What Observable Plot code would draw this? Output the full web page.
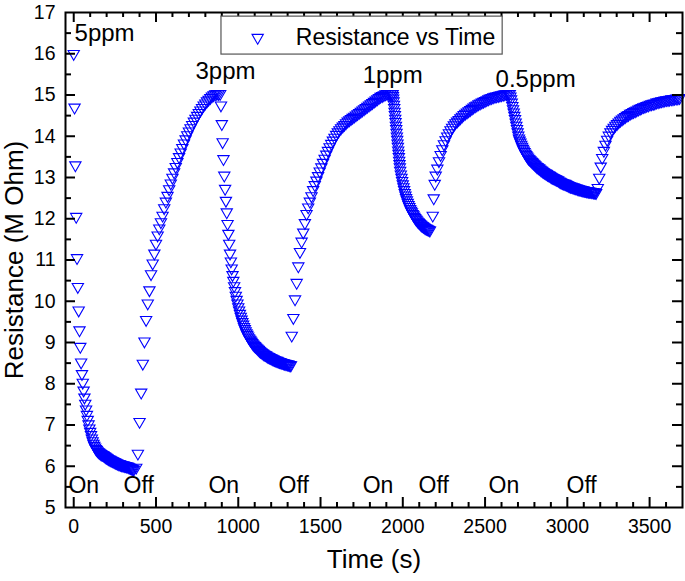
<!DOCTYPE html>
<html><head><meta charset="utf-8">
<script src="https://cdn.jsdelivr.net/npm/d3@7"></script>
<script src="https://cdn.jsdelivr.net/npm/@observablehq/plot@0.6"></script>
<style>body{margin:0;background:#fff}#chart{width:685px;height:581px}</style>
</head><body><div id="chart"></div>
<script>
// [time (s), resistance (M Ohm)]
const on5ppm = [[0,16.0],[5,14.7],[10,13.3],[15,12.05],[20,11.05],[25,10.35],[30,9.78],[35,9.3],[40,8.9],[45,8.52],[50,8.24],[55,8.03],[60,7.84],[65,7.67],[70,7.52],[75,7.38],[80,7.25],[85,7.13],[90,7.02],[95,6.92],[100,6.84],[105,6.76],[110,6.68],[115,6.61],[120,6.55],[125,6.5],[130,6.46],[135,6.42],[140,6.4],[145,6.37],[150,6.35],[155,6.33],[160,6.32],[165,6.3],[170,6.29],[175,6.28],[180,6.27],[185,6.25],[190,6.24],[195,6.22],[200,6.21],[205,6.2],[210,6.18],[215,6.17],[220,6.16],[225,6.15],[230,6.14],[235,6.13],[240,6.12],[245,6.11],[250,6.1],[255,6.09],[260,6.08],[265,6.07],[270,6.06],[275,6.05],[280,6.05],[285,6.04],[290,6.03],[295,6.03],[300,6.02],[305,6.02],[310,6.01],[315,6.01],[320,6.0],[325,6.0],[330,5.99],[335,5.98],[340,5.97],[345,5.96],[350,5.95],[355,5.94],[360,5.93],[365,5.92]];
const off5ppm = [[380,5.97],[390,6.31],[400,7.08],[410,7.79],[420,8.49],[430,9.03],[440,9.55],[450,9.95],[460,10.27],[470,10.66],[480,10.92],[490,11.16],[500,11.4],[510,11.6],[520,11.77],[530,11.92],[540,12.08],[550,12.26],[560,12.42],[570,12.56],[580,12.72],[590,12.86],[600,13.0],[610,13.13],[620,13.26],[630,13.38],[640,13.5],[650,13.61],[660,13.72],[670,13.83],[680,13.93],[690,14.03],[700,14.12],[710,14.2],[720,14.28],[730,14.36],[740,14.43],[750,14.5],[760,14.57],[770,14.63],[780,14.69],[790,14.75],[800,14.8],[810,14.85],[820,14.89],[830,14.93],[840,14.97],[850,15.0],[860,15.02],[870,15.03],[880,15.03]];
const on3ppm = [[890,15.03],[895,14.75],[900,14.3],[905,13.86],[910,13.45],[915,13.05],[920,12.73],[925,12.44],[930,12.16],[935,11.88],[940,11.64],[945,11.4],[950,11.16],[955,10.97],[960,10.8],[965,10.64],[970,10.5],[975,10.37],[980,10.25],[985,10.14],[990,10.04],[995,9.95],[1000,9.86],[1005,9.78],[1010,9.7],[1015,9.63],[1020,9.56],[1025,9.5],[1030,9.44],[1035,9.38],[1040,9.33],[1045,9.28],[1050,9.23],[1055,9.19],[1060,9.15],[1065,9.11],[1070,9.08],[1075,9.05],[1080,9.02],[1085,8.99],[1090,8.96],[1095,8.94],[1100,8.92],[1105,8.9],[1110,8.88],[1115,8.86],[1120,8.84],[1125,8.82],[1130,8.8],[1135,8.78],[1140,8.77],[1145,8.75],[1150,8.74],[1155,8.72],[1160,8.71],[1165,8.7],[1170,8.69],[1175,8.67],[1180,8.66],[1185,8.65],[1190,8.64],[1195,8.63],[1200,8.62],[1205,8.61],[1210,8.6],[1215,8.59],[1220,8.58],[1225,8.57],[1230,8.56],[1235,8.56],[1240,8.55],[1245,8.54],[1250,8.53],[1255,8.53],[1260,8.52],[1265,8.51],[1270,8.51],[1275,8.5],[1280,8.49],[1285,8.49],[1290,8.48],[1295,8.48],[1300,8.47],[1305,8.47],[1310,8.46],[1315,8.45],[1320,8.45]];
const off3ppm = [[1325,9.17],[1335,9.6],[1345,10.05],[1355,10.45],[1365,10.85],[1375,11.2],[1385,11.45],[1395,11.67],[1405,11.9],[1415,12.12],[1425,12.28],[1435,12.42],[1445,12.55],[1455,12.7],[1465,12.82],[1475,12.93],[1485,13.04],[1495,13.15],[1505,13.25],[1515,13.36],[1525,13.46],[1535,13.56],[1545,13.65],[1555,13.74],[1565,13.82],[1575,13.9],[1585,13.97],[1595,14.04],[1605,14.1],[1615,14.15],[1625,14.2],[1635,14.24],[1645,14.28],[1655,14.32],[1665,14.36],[1675,14.39],[1685,14.42],[1695,14.45],[1705,14.48],[1715,14.51],[1725,14.54],[1735,14.57],[1745,14.6],[1755,14.63],[1765,14.66],[1775,14.69],[1785,14.72],[1795,14.75],[1805,14.78],[1815,14.81],[1825,14.84],[1835,14.87],[1845,14.9],[1855,14.93],[1865,14.96],[1875,14.98],[1885,15.0],[1895,15.02],[1905,15.03],[1915,15.03],[1925,15.03],[1935,15.03]];
const on1ppm = [[1938,15.03],[1940,14.98],[1942,14.92],[1944,14.85],[1946,14.77],[1948,14.69],[1950,14.6],[1952,14.52],[1954,14.43],[1956,14.35],[1958,14.26],[1960,14.18],[1962,14.09],[1964,14.0],[1966,13.92],[1968,13.83],[1970,13.75],[1972,13.66],[1974,13.58],[1976,13.5],[1978,13.41],[1980,13.33],[1982,13.25],[1984,13.17],[1988,13.08],[1992,13.0],[1996,12.92],[2000,12.84],[2004,12.77],[2008,12.7],[2012,12.63],[2016,12.57],[2020,12.51],[2025,12.45],[2030,12.39],[2035,12.34],[2040,12.29],[2045,12.24],[2050,12.2],[2055,12.16],[2060,12.12],[2065,12.09],[2070,12.05],[2075,12.02],[2080,11.99],[2085,11.97],[2090,11.94],[2095,11.92],[2100,11.9],[2105,11.88],[2110,11.86],[2115,11.84],[2120,11.83],[2125,11.81],[2130,11.8],[2135,11.78],[2140,11.77],[2145,11.76],[2150,11.75],[2155,11.74],[2160,11.73],[2165,11.72]];
const off1ppm = [[2182,12.08],[2188,12.5],[2194,12.85],[2200,13.05],[2210,13.22],[2220,13.4],[2230,13.55],[2240,13.69],[2250,13.81],[2260,13.91],[2270,14.0],[2280,14.08],[2290,14.15],[2300,14.21],[2310,14.27],[2320,14.32],[2330,14.36],[2340,14.4],[2350,14.44],[2360,14.48],[2370,14.52],[2380,14.55],[2390,14.58],[2400,14.61],[2410,14.64],[2420,14.67],[2430,14.7],[2440,14.73],[2450,14.75],[2460,14.78],[2470,14.8],[2480,14.82],[2490,14.84],[2500,14.86],[2510,14.88],[2520,14.9],[2530,14.92],[2540,14.93],[2550,14.95],[2560,14.96],[2570,14.97],[2580,14.98],[2590,14.99],[2600,15.0],[2610,15.01],[2620,15.02],[2630,15.02],[2640,15.03]];
const on05ppm = [[2650,15.03],[2654,14.97],[2658,14.9],[2662,14.82],[2666,14.74],[2670,14.66],[2674,14.58],[2678,14.5],[2682,14.42],[2686,14.34],[2690,14.26],[2694,14.18],[2698,14.1],[2702,14.02],[2706,13.95],[2710,13.9],[2715,13.85],[2720,13.8],[2725,13.75],[2730,13.7],[2735,13.66],[2740,13.62],[2745,13.58],[2750,13.55],[2755,13.52],[2760,13.49],[2765,13.46],[2770,13.44],[2775,13.42],[2780,13.4],[2785,13.38],[2790,13.36],[2795,13.34],[2800,13.32],[2805,13.3],[2810,13.28],[2815,13.26],[2820,13.25],[2825,13.23],[2830,13.22],[2835,13.2],[2840,13.18],[2845,13.17],[2850,13.15],[2855,13.14],[2860,13.12],[2865,13.11],[2870,13.1],[2875,13.09],[2880,13.07],[2885,13.06],[2890,13.05],[2895,13.04],[2900,13.02],[2905,13.01],[2910,13.0],[2915,12.99],[2920,12.98],[2925,12.97],[2930,12.96],[2935,12.95],[2940,12.94],[2945,12.93],[2950,12.91],[2955,12.9],[2960,12.89],[2965,12.88],[2970,12.87],[2975,12.86],[2980,12.85],[2985,12.85],[2990,12.84],[2995,12.83],[3000,12.82],[3005,12.81],[3010,12.8],[3015,12.79],[3020,12.78],[3025,12.78],[3030,12.77],[3035,12.76],[3040,12.76],[3045,12.75],[3050,12.74],[3055,12.74],[3060,12.73],[3065,12.72],[3070,12.72],[3075,12.71],[3080,12.71],[3085,12.7],[3090,12.7],[3095,12.69],[3100,12.69],[3105,12.68],[3110,12.68],[3115,12.67],[3120,12.67],[3125,12.67],[3130,12.66],[3135,12.66],[3140,12.66],[3145,12.65],[3150,12.65],[3155,12.65],[3160,12.64],[3165,12.64],[3170,12.64],[3175,12.63]];
const off05ppm = [[3185,12.75],[3194,13.0],[3203,13.27],[3212,13.48],[3222,13.65],[3232,13.8],[3242,13.92],[3252,14.02],[3262,14.1],[3272,14.16],[3282,14.21],[3292,14.26],[3302,14.3],[3312,14.34],[3322,14.38],[3332,14.41],[3342,14.44],[3352,14.47],[3362,14.5],[3372,14.52],[3382,14.55],[3392,14.57],[3402,14.59],[3412,14.61],[3422,14.63],[3432,14.65],[3442,14.67],[3452,14.69],[3462,14.71],[3472,14.72],[3482,14.74],[3492,14.75],[3502,14.77],[3512,14.78],[3522,14.79],[3532,14.8],[3542,14.82],[3552,14.83],[3562,14.84],[3572,14.85],[3582,14.86],[3592,14.87],[3602,14.88],[3612,14.88],[3622,14.89],[3632,14.9],[3642,14.9],[3652,14.91],[3662,14.92],[3672,14.92],[3682,14.93]];

const xMajorTicks = [0,500,1000,1500,2000,2500,3000,3500];
const xMinorTicks = [100,200,300,400,600,700,800,900,1100,1200,1300,1400,1600,1700,1800,1900,2100,2200,2300,2400,2600,2700,2800,2900,3100,3200,3300,3400,3600];
const yMajorTicks = [5,6,7,8,9,10,11,12,13,14,15,16,17];
const yMinorTicks = [5.5,6.5,7.5,8.5,9.5,10.5,11.5,12.5,13.5,14.5,15.5,16.5];

const ppmLabels = ["5ppm","3ppm","1ppm","0.5ppm"];
const ppmX = [5,740,1756,2564];
const ppmY = [16.5,15.58,15.48,15.39];
const gasLabels = ["On","Off","On","Off","On","Off","On","Off"];
const gasX = [-32,303,819,1245,1756,2096,2521,2995];
const gasY = 5.52;
const legendLabel = "Resistance vs Time";
const xTitle = "Time (s)";
const yTitle = "Resistance (M Ohm)";

const series = [on5ppm, off5ppm, on3ppm, off3ppm, on1ppm, off1ppm, on05ppm, off05ppm];
const points = series.flat().map(([t, r]) => ({t, r}));

const triangleDown = {
  draw(ctx, size) {
    const y = Math.sqrt(size / (3 * Math.sqrt(3)));
    ctx.moveTo(0, 2 * y);
    ctx.lineTo(Math.sqrt(3) * y, -y);
    ctx.lineTo(-Math.sqrt(3) * y, -y);
    ctx.closePath();
  }
};

const W = 685, H = 581, ML = 65, MR = 3, MT = 12, MB = 74;
const innerW = W - ML - MR, innerH = H - MT - MB;
const blue = "#0000ff";

const chart = Plot.plot({
  width: W, height: H,
  marginLeft: ML, marginRight: MR, marginTop: MT, marginBottom: MB,
  x: {domain: [-50, 3700]},
  y: {domain: [5, 17]},
  style: {fontFamily: "'Liberation Sans', Arial, sans-serif", background: "white", color: "black", overflow: "visible"},
  marks: [
    Plot.dot(points, {x: "t", y: "r", symbol: triangleDown, r: 4.2, stroke: blue, strokeWidth: 1.1, fill: "none"}),
    Plot.frame({stroke: "black", strokeWidth: 2}),
    Plot.tickX(xMajorTicks, {x: d => d, insetTop: innerH - 10, stroke: "black", strokeWidth: 2}),
    Plot.tickX(xMinorTicks, {x: d => d, insetTop: innerH - 5, stroke: "black", strokeWidth: 2}),
    Plot.tickX(xMajorTicks, {x: d => d, insetBottom: innerH - 10, stroke: "black", strokeWidth: 2}),
    Plot.tickX(xMinorTicks, {x: d => d, insetBottom: innerH - 5, stroke: "black", strokeWidth: 2}),
    Plot.tickY(yMajorTicks.slice(1, -1), {y: d => d, insetRight: innerW - 10, stroke: "black", strokeWidth: 2}),
    Plot.tickY(yMinorTicks, {y: d => d, insetRight: innerW - 6, stroke: "black", strokeWidth: 2}),
    Plot.tickY(yMajorTicks.slice(1, -1), {y: d => d, insetLeft: innerW - 10, stroke: "black", strokeWidth: 2}),
    Plot.tickY(yMinorTicks, {y: d => d, insetLeft: innerW - 6, stroke: "black", strokeWidth: 2}),
    Plot.axisX(xMajorTicks, {tickSize: 0, tickPadding: 12, fontSize: 19.5, tickFormat: d => String(d), label: null}),
    Plot.axisY(yMajorTicks, {tickSize: 0, tickPadding: 10, fontSize: 19.5, tickFormat: d => String(d), label: null}),
    Plot.text([xTitle], {frameAnchor: "bottom", textAnchor: "middle", dy: 60, fontSize: 26, text: d => d}),
    Plot.text([yTitle], {frameAnchor: "left", textAnchor: "middle", dx: -51, rotate: -90, fontSize: 26, text: d => d}),
    Plot.text(ppmLabels.map((label, i) => ({label, x: ppmX[i], y: ppmY[i]})), {x: "x", y: "y", text: "label", textAnchor: "start", fontSize: 24}),
    Plot.text(gasLabels.map((label, i) => ({label, x: gasX[i]})), {x: "x", y: gasY, text: "label", textAnchor: "start", fontSize: 23}),
    Plot.rect([legendLabel], {x1: 898, x2: 2607, y1: 15.98, y2: 16.9, fill: "white", stroke: "#555", strokeWidth: 1.2}),
    Plot.dot([legendLabel], {x: 1118, y: 16.39, symbol: triangleDown, r: 4.2, stroke: blue, strokeWidth: 1.1, fill: "none"}),
    Plot.text([legendLabel], {x: 1350, y: 16.39, text: d => d, textAnchor: "start", fontSize: 23})
  ]
});
document.getElementById("chart").appendChild(chart);
</script>
</body></html>
